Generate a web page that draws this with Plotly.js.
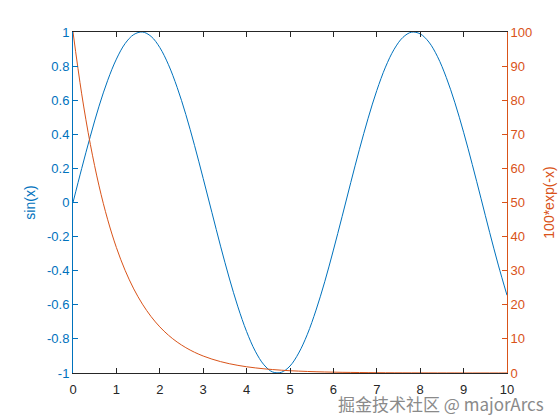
<!DOCTYPE html>
<html>
<head>
<meta charset="utf-8">
<script src="https://cdn.plot.ly/plotly-3.0.1.min.js"></script>
<style>html,body{margin:0;padding:0;background:#fff;}#chart{width:560px;height:420px;}</style>
</head>
<body>
<div id="chart"></div>
<script>
const xValues = [0,0.2,0.4,0.6,0.8,1,1.2,1.4,1.6,1.8,2,2.2,2.4,2.6,2.8,3,3.2,3.4,3.6,3.8,4,4.2,4.4,4.6,4.8,5,5.2,5.4,5.6,5.8,6,6.2,6.4,6.6,6.8,7,7.2,7.4,7.6,7.8,8,8.2,8.4,8.6,8.8,9,9.2,9.4,9.6,9.8,10];
const sinValues = [0,0.199,0.389,0.565,0.717,0.841,0.932,0.985,1.000,0.974,0.909,0.808,0.675,0.516,0.335,0.141,-0.058,-0.256,-0.443,-0.612,-0.757,-0.872,-0.952,-0.994,-0.996,-0.959,-0.883,-0.773,-0.631,-0.465,-0.279,-0.083,0.117,0.312,0.494,0.657,0.794,0.899,0.968,0.999,0.989,0.941,0.855,0.734,0.585,0.412,0.223,0.025,-0.175,-0.367,-0.544];
const expValues = [100,81.87,67.03,54.88,44.93,36.79,30.12,24.66,20.19,16.53,13.53,11.08,9.07,7.43,6.08,4.98,4.08,3.34,2.73,2.24,1.83,1.50,1.23,1.01,0.82,0.67,0.55,0.45,0.37,0.30,0.25,0.20,0.17,0.14,0.11,0.09,0.07,0.06,0.05,0.04,0.03,0.03,0.02,0.02,0.02,0.01,0.01,0.01,0.01,0.01,0.005];
const xTicks = [0,1,2,3,4,5,6,7,8,9,10];
const leftTicks = [-1,-0.8,-0.6,-0.4,-0.2,0,0.2,0.4,0.6,0.8,1];
const leftTickText = ['-1','-0.8','-0.6','-0.4','-0.2','0','0.2','0.4','0.6','0.8','1'];
const rightTicks = [0,10,20,30,40,50,60,70,80,90,100];
const leftTitle = 'sin(x)';
const rightTitle = '100*exp(-x)';
const watermark = '掘金技术社区 @ majorArcs';

const BLUE = '#0072BD', ORANGE = '#D95319', DARK = '#262626';
const FONT = 'Liberation Sans, Arial, sans-serif';

const data = [
  {x: xValues, y: sinValues, type: 'scatter', mode: 'lines', line: {color: BLUE, width: 1, shape: 'spline'}, yaxis: 'y', hoverinfo: 'skip'},
  {x: xValues, y: expValues, type: 'scatter', mode: 'lines', line: {color: ORANGE, width: 1, shape: 'spline'}, yaxis: 'y2', hoverinfo: 'skip'}
];

const layout = {
  width: 560, height: 420,
  margin: {l: 73, r: 53, t: 32, b: 47},
  paper_bgcolor: '#fff', plot_bgcolor: '#fff',
  showlegend: false,
  font: {family: FONT, size: 13, color: DARK},
  xaxis: {
    range: [0, 10], tickvals: xTicks, ticktext: xTicks.map(String),
    ticks: 'inside', ticklen: 5, tickcolor: DARK, tickwidth: 1,
    showline: true, linecolor: DARK, linewidth: 1, mirror: 'ticks',
    ticklabelstandoff: 4,
    showgrid: false, zeroline: false, tickfont: {color: DARK, size: 13}
  },
  yaxis: {
    range: [-1, 1], tickvals: leftTicks, ticktext: leftTickText,
    ticks: 'inside', ticklen: 5, tickcolor: BLUE, tickwidth: 1,
    showline: true, linecolor: BLUE, linewidth: 1,
    showgrid: false, zeroline: false, tickfont: {color: BLUE, size: 13},
    title: {text: leftTitle, font: {color: BLUE, size: 14}, standoff: 8}
  },
  yaxis2: {
    range: [0, 100], tickvals: rightTicks, ticktext: rightTicks.map(String),
    overlaying: 'y', side: 'right',
    ticks: 'inside', ticklen: 5, tickcolor: ORANGE, tickwidth: 1,
    showline: true, linecolor: ORANGE, linewidth: 1,
    showgrid: false, zeroline: false, tickfont: {color: ORANGE, size: 13},
    title: {text: rightTitle, font: {color: ORANGE, size: 14}, standoff: 12}
  },
  annotations: [{
    text: watermark, xref: 'paper', yref: 'paper', x: 1.09, y: -0.09,
    xanchor: 'right', yanchor: 'middle', showarrow: false,
    font: {family: 'Noto Sans CJK SC, sans-serif', size: 17, color: '#8a8a8a'}
  }]
};

Plotly.newPlot('chart', data, layout, {staticPlot: true, displayModeBar: false});
</script>
</body>
</html>
